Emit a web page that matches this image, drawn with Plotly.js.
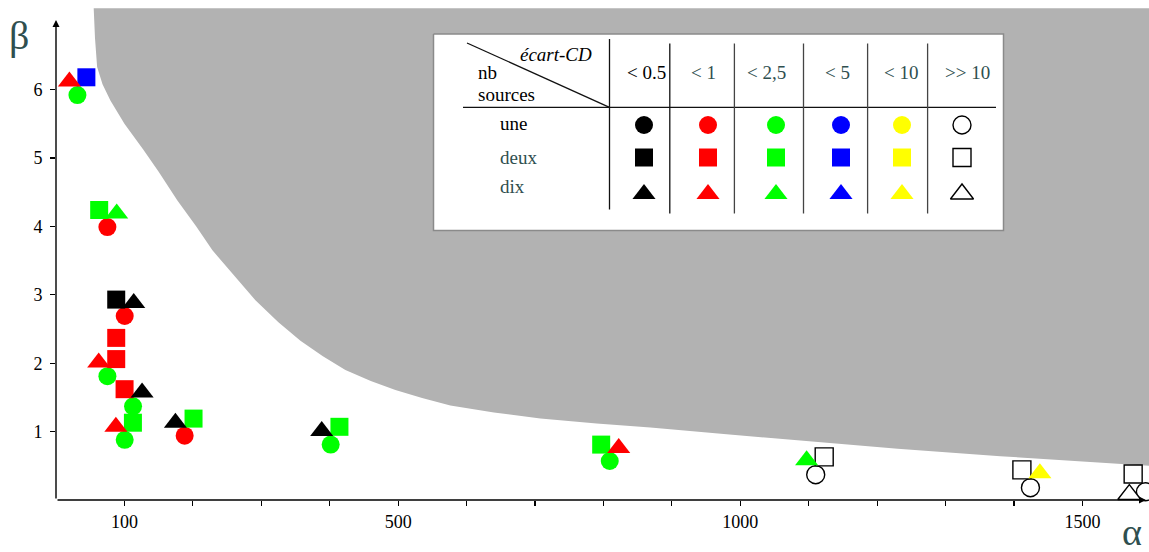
<!DOCTYPE html>
<html><head><meta charset="utf-8">
<script src="https://cdn.plot.ly/plotly-3.0.1.min.js"></script>
<style>html,body{margin:0;padding:0;background:#fff;} #chart{width:1149px;height:552px;}</style>
</head><body><div id="chart"></div>
<script>
// ---------------- data ----------------
const classLabels = ['< 0.5', '< 1', '< 2,5', '< 5', '< 10', '>> 10'];
const sourceLabels = ['une', 'deux', 'dix'];

// one source (circles)
const uneX = [31.3, 75.1, 100.4, 75.1, 112.6, 100.4, 188, 401.4, 809.2, 1110.2, 1424, 1592];
const uneY = [5.92, 3.99, 2.69, 1.81, 1.37, 0.88, 0.94, 0.81, 0.57, 0.37, 0.18, 0.12];
const uneClass = [2, 1, 1, 2, 2, 2, 1, 2, 2, 5, 5, 5];

// two sources (squares)
const deuxX = [44.4, 63.1, 88, 88, 88, 100.2, 112.4, 201, 414.2, 796.7, 1122.6, 1411.5, 1574.1];
const deuxY = [6.18, 4.24, 2.93, 2.37, 2.06, 1.62, 1.13, 1.19, 1.07, 0.81, 0.63, 0.44, 0.38];
const deuxClass = [3, 2, 0, 1, 1, 1, 2, 2, 2, 2, 5, 5, 5];

// ten sources (triangles)
const dixX = [19.6, 88.7, 113.6, 62.4, 125.8, 87.5, 174.5, 388.3, 822.3, 1096.9, 1437.8, 1568.5];
const dixY = [6.12, 4.19, 2.88, 2.01, 1.57, 1.07, 1.13, 1.01, 0.76, 0.58, 0.39, 0.08];
const dixClass = [1, 2, 0, 1, 0, 1, 0, 0, 1, 2, 4, 5];

// shaded (unreachable) region boundary
const regionX = [55.1, 57, 60.1, 68, 79.5, 100, 127.7, 150, 177.4, 205, 228.6, 260, 291.4, 325, 357.2, 390, 422.9, 460, 496, 535, 576.3, 640, 707.9, 790, 868.6, 980, 1087.8, 1230, 1380, 1490, 1600, 1600, 55.1];
const regionY = [7.19, 6.75, 6.33, 6.08, 5.84, 5.5, 5.12, 4.80, 4.38, 4.0, 3.65, 3.28, 2.92, 2.60, 2.33, 2.10, 1.90, 1.74, 1.61, 1.49, 1.38, 1.28, 1.19, 1.12, 1.06, 0.96, 0.87, 0.75, 0.64, 0.57, 0.50, 7.19, 7.19];

const xTickVals = [100, 200, 300, 400, 500, 600, 700, 800, 900, 1000, 1100, 1200, 1300, 1400, 1500];
const xTickText = ['100', '', '', '', '500', '', '', '', '', '1000', '', '', '', '', '1500'];
const yTickVals = [1, 2, 3, 4, 5, 6];

// ---------------- styles / geometry ----------------
const classColors = ['#000000', '#ff0000', '#00ff00', '#0000ff', '#ffff00', '#ffffff'];
const SLATE = '#2f4f4f';
const SERIF = 'Liberation Serif, Times New Roman, serif';

const L = 56, T = 8, Bm = 52, Rm = 0;
const W = 1149 - L - Rm, H = 552 - T - Bm;
const XMAX = W / 0.6843, YMAX = H / 68.4;
const px2x = p => (p - L) * XMAX / W;
const px2y = p => YMAX - (p - T) * YMAX / H;
const px2px = p => (p - L) / W;
const py2py = p => 1 - (p - T) / H;

const TRI = 20;
const lw = c => c.map(k => k === 5 ? 1.4 : 0);
const lc = c => c.map(k => '#000');
const cc = c => c.map(k => classColors[k]);

const traces = [];
traces.push({x: regionX, y: regionY, type: 'scatter', mode: 'lines', fill: 'toself', line: {width: 0},
  fillcolor: '#b2b2b2', hoverinfo: 'skip', showlegend: false});
const bx0 = px2x(433.5), bx1 = px2x(1003.5), by0 = px2y(34), by1 = px2y(230.5);
traces.push({x: [bx0, bx1, bx1, bx0, bx0], y: [by0, by0, by1, by1, by0], type: 'scatter', mode: 'lines',
  fill: 'toself', fillcolor: '#ffffff', line: {color: '#8a8a8a', width: 1.5}, hoverinfo: 'skip', showlegend: false});

function pts(xs, ys, cls, sym, size) {
  return {x: xs, y: ys, type: 'scatter', mode: 'markers', cliponaxis: false, showlegend: false,
    marker: {symbol: sym, size: size, color: cc(cls), line: {width: lw(cls), color: lc(cls)}}};
}
traces.push(pts(uneX, uneY, uneClass, 'circle', 18));
traces.push(pts(deuxX, deuxY, deuxClass, 'square', 18));
traces.push(pts(dixX, dixY, dixClass, 'triangle-up', TRI));

const colPx = [644, 708, 776, 841, 902, 962];
const rowPx = [125, 157.5, 194];
const symbols = ['circle', 'square', 'triangle-up'];
const sizes = [18, 18, TRI];
for (let r = 0; r < 3; r++) {
  const cls = classLabels.map((_, i) => i);
  traces.push({x: colPx.map(px2x), y: colPx.map(() => px2y(rowPx[r])), type: 'scatter', mode: 'markers',
    showlegend: false, hoverinfo: 'skip',
    marker: {symbol: symbols[r], size: sizes[r], color: cc(cls), line: {width: lw(cls), color: lc(cls)}}});
}

const shapes = [];
function seg(x0, y0, x1, y1, col) {
  shapes.push({type: 'line', xref: 'x', yref: 'y', layer: 'above', x0: px2x(x0), y0: px2y(y0), x1: px2x(x1), y1: px2y(y1),
    line: {color: col || '#111', width: 1.3}});
}
seg(467, 43, 609.5, 107.3);
seg(463, 107.3, 996, 107.3);
seg(609.5, 39, 609.5, 209.5);
[669.8, 734.4, 803.5, 867.6, 927.6].forEach((x, i) => seg(x, 43.5, x, 213.5, i === 0 ? '#111' : '#444'));

const ann = [];
function txt(text, px, py, opts) {
  ann.push(Object.assign({text: text, x: px2px(px), y: py2py(py), xref: 'paper', yref: 'paper', showarrow: false,
    xanchor: 'center', yanchor: 'middle', font: {family: SERIF, size: 19, color: '#000'}}, opts || {}));
}
txt('<i>écart-CD</i>', 556, 54);
txt('nb', 476, 72, {xanchor: 'left'});
txt('sources', 476, 94, {xanchor: 'left'});
const headCx = [646, 703, 766, 837, 901, 967];
classLabels.forEach((t, i) => txt(t.replace('<', '&lt;').replace('>>', '&gt;&gt;'), headCx[i], 72,
  {font: {family: SERIF, size: 19, color: i === 0 ? '#000' : SLATE}}));
const rowLabelPy = [123.5, 157, 187];
sourceLabels.forEach((t, i) => txt(t, 498, rowLabelPy[i],
  {xanchor: 'left', font: {family: SERIF, size: 19, color: i === 0 ? '#000' : SLATE}}));
txt('β', 19, 36, {font: {family: SERIF, size: 40, color: SLATE}});
txt('α', 1132, 532, {font: {family: SERIF, size: 38, color: SLATE}});
ann.push({x: 0, y: px2y(20), ax: 0, ay: 0, xref: 'x', yref: 'y', axref: 'x', ayref: 'y', text: '',
  showarrow: true, arrowhead: 2, arrowsize: 1, arrowwidth: 1.4, arrowcolor: '#000', standoff: 0, startstandoff: 0});
ann.push({x: px2x(1146), y: 0, ax: 0, ay: 0, xref: 'x', yref: 'y', axref: 'x', ayref: 'y', text: '',
  showarrow: true, arrowhead: 2, arrowsize: 1, arrowwidth: 1.4, arrowcolor: '#000', standoff: 0, startstandoff: 0});

const layout = {
  width: 1149, height: 552,
  margin: {l: L, r: Rm, t: T, b: Bm, pad: 0},
  paper_bgcolor: '#fff', plot_bgcolor: '#fff',
  showlegend: false,
  xaxis: {range: [0, XMAX], showgrid: false, zeroline: false, showline: false,
    tickmode: 'array', tickvals: xTickVals, ticktext: xTickText, ticks: 'outside', ticklen: 5, tickwidth: 1.2, tickcolor: '#000',
    tickfont: {family: SERIF, size: 18, color: '#000'}},
  yaxis: {range: [0, YMAX], showgrid: false, zeroline: false, showline: false,
    tickmode: 'array', tickvals: yTickVals, ticks: 'outside', ticklen: 5, tickwidth: 1.2, tickcolor: '#000',
    tickfont: {family: SERIF, size: 18, color: '#000'}, ticklabelstandoff: 4},
  shapes: shapes,
  annotations: ann
};
Plotly.newPlot('chart', traces, layout, {staticPlot: true, displayModeBar: false});
</script></body></html>
